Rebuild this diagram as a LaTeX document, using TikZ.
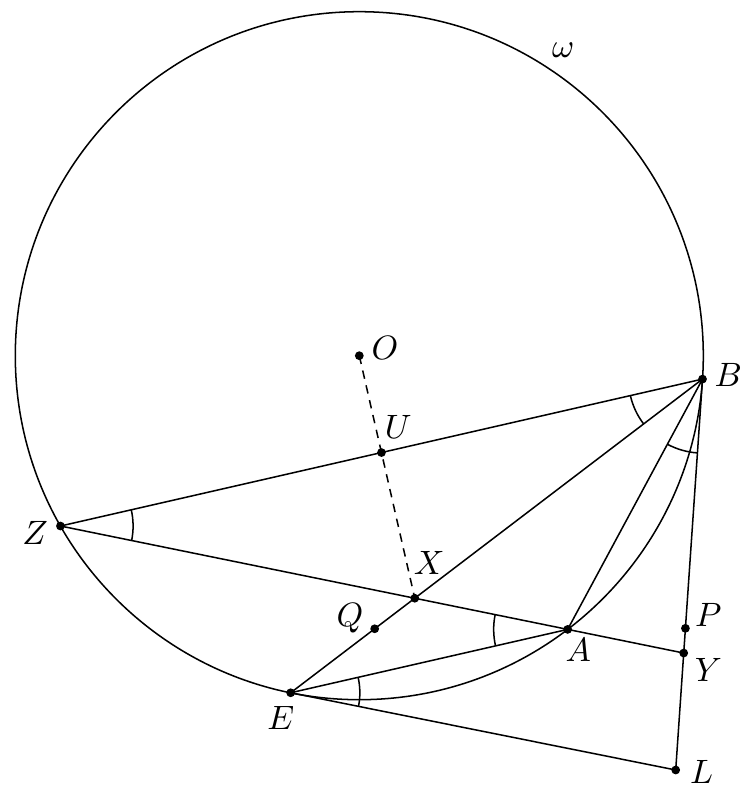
\documentclass[tikz,border=0pt]{standalone}
\usetikzlibrary{calc,angles,intersections}
\begin{document}
\begin{tikzpicture}[x=0.0104cm,y=0.0104cm,
  pt/.style={circle,fill=black,inner sep=0pt,minimum size=2.6pt},
  lab/.style={inner sep=0pt},
  ang/.style={draw,line width=0.6pt},
  every path/.style={line width=0.45pt}]
\useasboundingbox (0,0) rectangle (750,792);
% circle
\coordinate (O) at (359.3,436.3);
\def\R{344}
\coordinate (Z) at ($(O)+(209.68:\R)$);
\coordinate (B) at ($(O)+(-3.90:\R)$);
\coordinate (E) at ($(O)+(258.49:\R)$);
\coordinate (A) at ($(O)+(-52.72:\R)$);
\coordinate (L) at (675.7,22);
\coordinate (U) at ($(Z)!0.5!(B)$);
\coordinate (X) at (intersection of Z--A and B--E);
\coordinate (Y) at (intersection of Z--A and B--L);
\coordinate (Q) at ($(E)!0.204!(B)$);
\coordinate (P) at ($(B)!0.6376!(L)$);
\draw (O) circle (\R);
% lines
\draw (Z) -- (B);
\draw (Z) -- (Y);
\draw (B) -- (E);
\draw (B) -- (A);
\draw (B) -- (L);
\draw (E) -- (A);
\draw (E) -- (L);
\draw[dash pattern=on 2.5pt off 2pt] (O) -- (X);
% angle marks
\pic[ang,angle radius=0.77cm] {angle=Z--B--E};
\pic[ang,angle radius=0.77cm] {angle=A--B--L};
\pic[ang,angle radius=0.756cm] {angle=A--Z--B};
\pic[ang,angle radius=0.77cm] {angle=Z--A--E};
\pic[ang,angle radius=0.72cm] {angle=L--E--A};
% points
\foreach \p in {O,Z,B,E,A,L,U,X,Y,Q,P} \node[pt] (n\p) at (\p) {};
% labels
\node[lab] (lw) at (563.3,742) {$\omega$};
\node[lab] (lO) at (385,443.7) {$O$};
\node[lab] (lB) at (728.3,417) {$B$};
\node[lab] (lU) at (398.3,364.7) {$U$};
\node[lab] (lZ) at (35,258.7) {$Z$};
\node[lab] (lX) at (429.3,229.3) {$X$};
\node[lab] (lQ) at (350,173.7) {$Q$};
\node[lab] (lA) at (578.3,142) {$A$};
\node[lab] (lE) at (280.7,73.7) {$E$};
\node[lab] (lP) at (708.3,177) {$P$};
\node[lab] (lY) at (708.3,122) {$Y$};
\node[lab] (lL) at (701.7,20.3) {$L$};
\end{tikzpicture}
\end{document}
